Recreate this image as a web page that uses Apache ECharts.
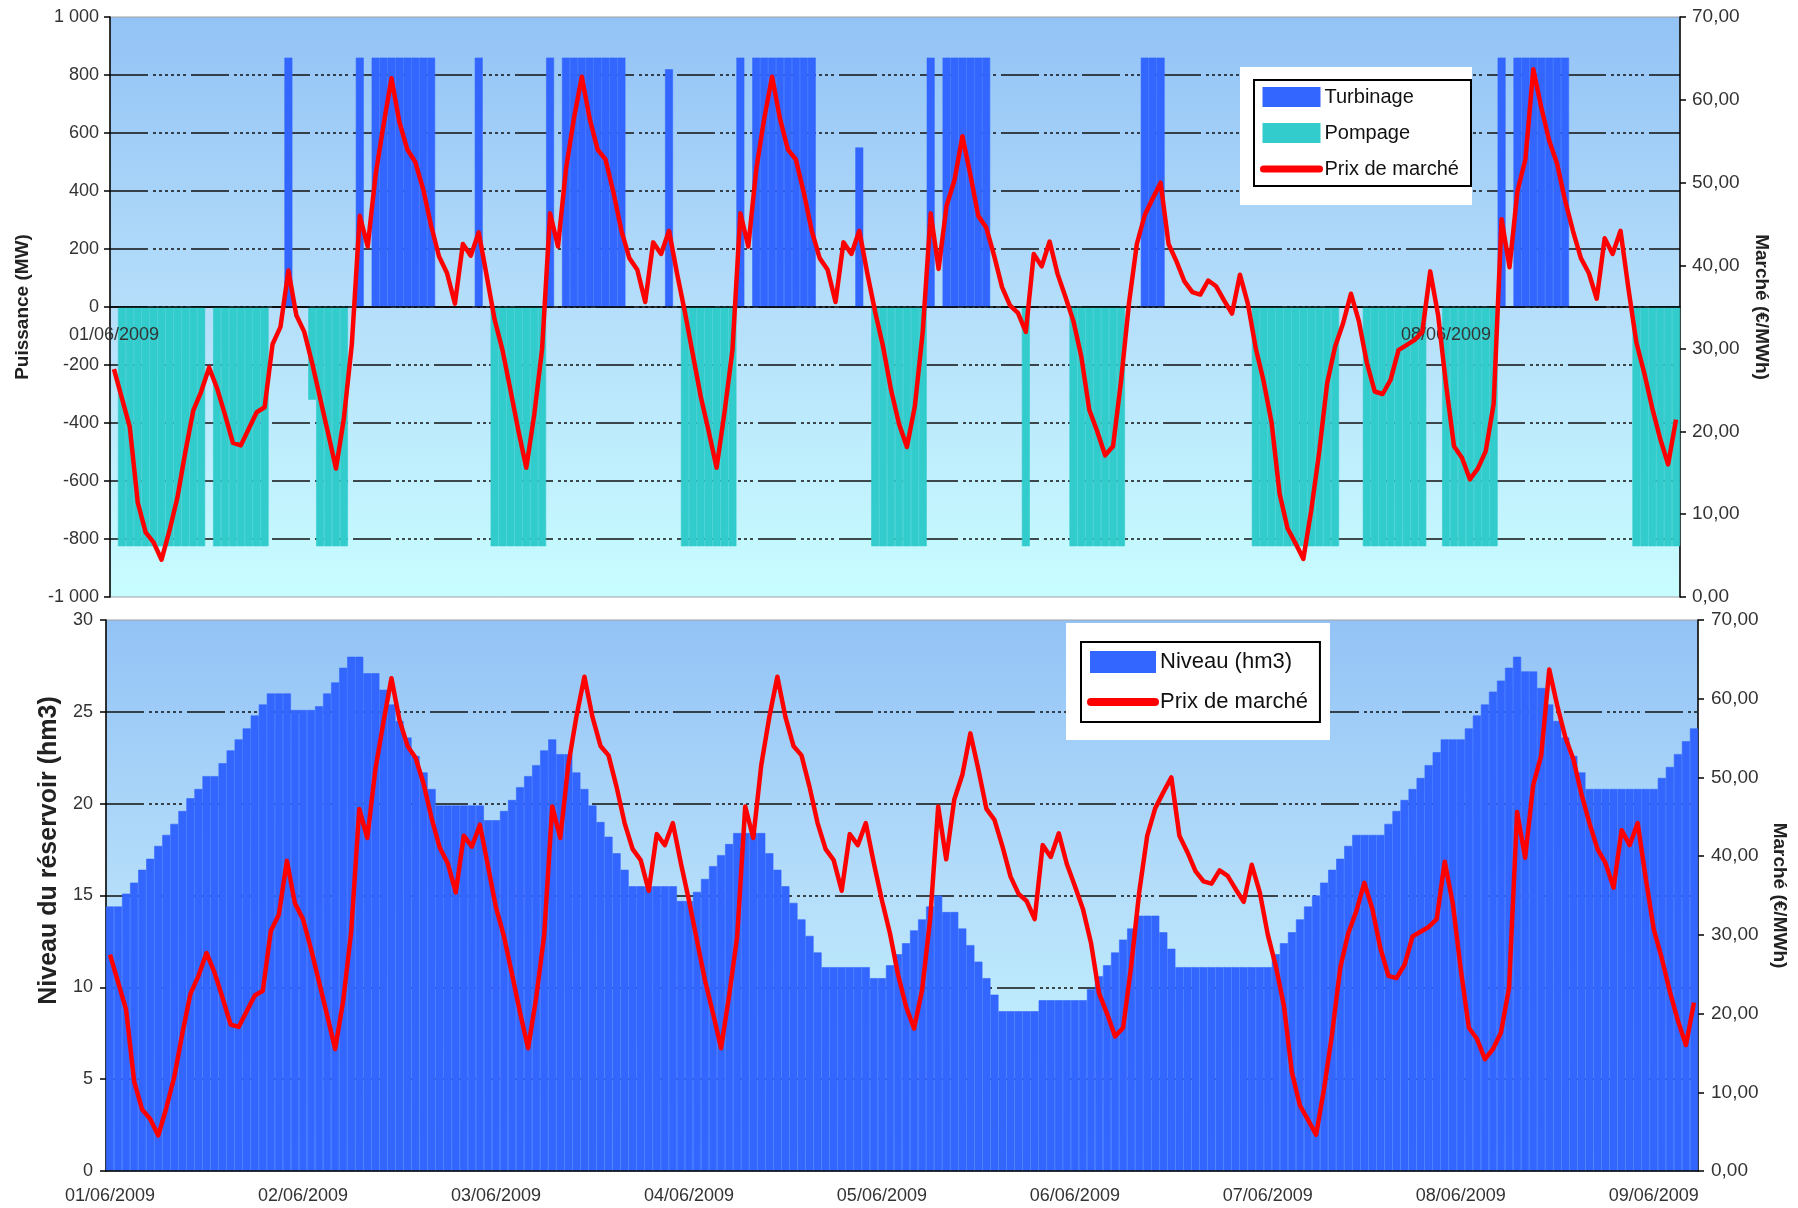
<!DOCTYPE html>
<html>
<head>
<meta charset="utf-8">
<title>Turbinage / pompage et prix de marché</title>
<style>
  html, body { margin: 0; padding: 0; background: #fff; }
  #chart-panel { width: 1798px; height: 1208px; }
</style>
</head>
<body>
<div id="chart-panel"></div>
<script src="https://cdn.jsdelivr.net/npm/echarts@6/dist/echarts.min.js"></script>
<script>
var jours = ['01/06/2009', '02/06/2009', '03/06/2009', '04/06/2009', '05/06/2009',
  '06/06/2009', '07/06/2009', '08/06/2009', '09/06/2009'];

// prix de marché horaire (€/MWh), une ligne par jour
var prix = [
  27.5, 24.0, 20.5, 11.4, 7.8, 6.6, 4.5, 8.0, 12.0, 17.5, 22.5, 24.8, 27.7, 25.2, 22.0, 18.6, 18.3, 20.3, 22.3, 22.9, 30.5, 32.6, 39.4, 34.0,
  32.0, 28.2, 24.0, 19.8, 15.5, 21.6, 30.5, 46.0, 42.3, 51.0, 57.0, 62.6, 57.3, 54.0, 52.5, 49.2, 44.8, 41.1, 39.1, 35.4, 42.6, 41.2, 44.0, 38.8,
  33.5, 29.8, 25.0, 20.1, 15.6, 22.0, 30.0, 46.3, 42.3, 51.6, 57.7, 62.8, 57.7, 54.0, 52.8, 48.8, 44.2, 40.9, 39.5, 35.6, 42.8, 41.4, 44.2, 39.1,
  34.4, 29.3, 24.2, 20.0, 15.6, 22.3, 29.8, 46.3, 42.3, 51.6, 57.7, 62.8, 57.7, 54.0, 52.8, 48.8, 44.2, 40.9, 39.5, 35.6, 42.8, 41.4, 44.2, 39.1,
  34.4, 30.2, 25.0, 20.9, 18.1, 23.0, 32.0, 46.3, 39.6, 47.2, 50.3, 55.6, 51.0, 46.0, 44.6, 41.2, 37.4, 35.2, 34.3, 32.0, 41.4, 39.9, 42.9, 39.0,
  36.2, 33.3, 29.0, 22.6, 20.0, 17.1, 18.2, 26.0, 35.4, 42.6, 46.1, 48.1, 50.0, 42.6, 40.5, 38.1, 36.8, 36.5, 38.2, 37.5, 35.8, 34.2, 38.9, 35.4,
  30.0, 26.0, 21.0, 12.5, 8.3, 6.5, 4.6, 10.5, 17.5, 25.8, 30.2, 33.0, 36.6, 33.3, 28.3, 24.8, 24.5, 26.2, 29.8, 30.4, 31.0, 32.0, 39.3, 34.0,
  25.6, 18.2, 16.8, 14.2, 15.5, 17.6, 23.3, 45.6, 39.8, 49.0, 52.8, 63.7, 59.1, 55.1, 52.3, 47.9, 44.2, 40.9, 39.1, 36.0, 43.3, 41.4, 44.2, 37.2,
  30.7, 27.0, 22.8, 19.1, 16.0, 21.4
];

// niveau du réservoir (hm3)
var niveau = [
  14.4, 14.4, 15.1, 15.7, 16.4, 17.0, 17.7, 18.3, 18.9, 19.6, 20.3, 20.8, 21.5, 21.5, 22.2, 22.9, 23.5, 24.1, 24.8, 25.4, 26.0, 26.0, 26.0, 25.1,
  25.1, 25.1, 25.3, 26.0, 26.6, 27.4, 28.0, 28.0, 27.1, 27.1, 26.2, 25.4, 24.5, 23.6, 22.6, 21.7, 20.8, 19.9, 19.9, 19.9, 19.9, 19.9, 19.9, 19.1,
  19.1, 19.6, 20.2, 20.9, 21.5, 22.1, 22.9, 23.5, 22.7, 22.7, 21.7, 20.8, 19.9, 19.0, 18.2, 17.3, 16.4, 15.5, 15.5, 15.5, 15.5, 15.5, 15.5, 14.7,
  14.7, 15.2, 15.9, 16.6, 17.2, 17.8, 18.4, 18.4, 18.4, 18.4, 17.3, 16.4, 15.5, 14.6, 13.7, 12.8, 11.9, 11.1, 11.1, 11.1, 11.1, 11.1, 11.1, 10.5,
  10.5, 11.2, 11.8, 12.4, 13.1, 13.7, 14.4, 15.0, 14.1, 14.1, 13.2, 12.3, 11.4, 10.5, 9.6, 8.7, 8.7, 8.7, 8.7, 8.7, 9.3, 9.3, 9.3, 9.3,
  9.3, 9.3, 9.9, 10.6, 11.2, 11.9, 12.6, 13.2, 13.9, 13.9, 13.9, 13.0, 12.1, 11.1, 11.1, 11.1, 11.1, 11.1, 11.1, 11.1, 11.1, 11.1, 11.1, 11.1,
  11.1, 11.8, 12.4, 13.0, 13.7, 14.4, 15.0, 15.7, 16.4, 17.0, 17.7, 18.3, 18.3, 18.3, 18.3, 18.9, 19.6, 20.2, 20.8, 21.4, 22.1, 22.8, 23.5, 23.5,
  23.5, 24.1, 24.8, 25.4, 26.1, 26.7, 27.4, 28.0, 27.2, 27.2, 26.3, 25.4, 24.5, 23.6, 22.6, 21.7, 20.8, 20.8, 20.8, 20.8, 20.8, 20.8, 20.8, 20.8,
  20.8, 21.4, 22.0, 22.7, 23.4, 24.1
];

// puissance turbinée (MW)
var turbinage = [
  0, 0, 0, 0, 0, 0, 0, 0, 0, 0, 0, 0, 0, 0, 0, 0, 0, 0, 0, 0, 0, 0, 860, 0,
  0, 0, 0, 0, 0, 0, 0, 860, 0, 860, 860, 860, 860, 860, 860, 860, 860, 0, 0, 0, 0, 0, 860, 0,
  0, 0, 0, 0, 0, 0, 0, 860, 0, 860, 860, 860, 860, 860, 860, 860, 860, 0, 0, 0, 0, 0, 820, 0,
  0, 0, 0, 0, 0, 0, 0, 860, 0, 860, 860, 860, 860, 860, 860, 860, 860, 0, 0, 0, 0, 0, 550, 0,
  0, 0, 0, 0, 0, 0, 0, 860, 0, 860, 860, 860, 860, 860, 860, 0, 0, 0, 0, 0, 0, 0, 0, 0,
  0, 0, 0, 0, 0, 0, 0, 0, 0, 0, 860, 860, 860, 0, 0, 0, 0, 0, 0, 0, 0, 0, 0, 0,
  0, 0, 0, 0, 0, 0, 0, 0, 0, 0, 0, 0, 0, 0, 0, 0, 0, 0, 0, 0, 0, 0, 0, 0,
  0, 0, 0, 0, 0, 0, 0, 860, 0, 860, 860, 860, 860, 860, 860, 860, 0, 0, 0, 0, 0, 0, 0, 0,
  0, 0, 0, 0, 0, 0
];

// puissance de pompage (MW)
var pompage = [
  0, -825, -825, -825, -825, -825, -825, -825, -825, -825, -825, -825, 0, -825, -825, -825, -825, -825, -825, -825, 0, 0, 0, 0,
  0, -320, -825, -825, -825, -825, 0, 0, 0, 0, 0, 0, 0, 0, 0, 0, 0, 0, 0, 0, 0, 0, 0, 0,
  -825, -825, -825, -825, -825, -825, -825, 0, 0, 0, 0, 0, 0, 0, 0, 0, 0, 0, 0, 0, 0, 0, 0, 0,
  -825, -825, -825, -825, -825, -825, -825, 0, 0, 0, 0, 0, 0, 0, 0, 0, 0, 0, 0, 0, 0, 0, 0, 0,
  -825, -825, -825, -825, -825, -825, -825, 0, 0, 0, 0, 0, 0, 0, 0, 0, 0, 0, 0, -825, 0, 0, 0, 0,
  0, -825, -825, -825, -825, -825, -825, -825, 0, 0, 0, 0, 0, 0, 0, 0, 0, 0, 0, 0, 0, 0, 0, 0,
  -825, -825, -825, -825, -825, -825, -825, -825, -825, -825, -825, 0, 0, 0, -825, -825, -825, -825, -825, -825, -825, -825, 0, 0,
  -825, -825, -825, -825, -825, -825, -825, 0, 0, 0, 0, 0, 0, 0, 0, 0, 0, 0, 0, 0, 0, 0, 0, 0,
  -825, -825, -825, -825, -825, -825
];

// une catégorie par heure
var heures = [];
for (var i = 0; i < prix.length; i++) {
  var h = i % 24;
  heures.push(jours[Math.floor(i / 24)] + ' ' + (h < 10 ? '0' : '') + h + 'h');
}

var police = 'Liberation Sans, Arial, sans-serif';
var fond = {
  type: 'linear', x: 0, y: 0, x2: 0, y2: 1,
  colorStops: [
    { offset: 0, color: '#93c3f6' },
    { offset: 0.5, color: '#b5defa' },
    { offset: 1, color: '#c8fdff' }
  ]
};
var grille = {
  show: true,
  showMinLine: false,
  showMaxLine: false,
  lineStyle: { color: '#111', width: 1.5, type: [38, 5, 3, 3, 3, 3, 3, 3, 3, 3, 3, 3, 3, 5] }
};
var trait = { color: '#000', width: 1.5 };
var etiquette = { fontSize: 18, color: '#333', fontFamily: police };
var etiquetteDroite = { fontSize: 19, color: '#333', fontFamily: police };
var titreAxe = { fontSize: 19, fontWeight: 'bold', color: '#222', fontFamily: police };

function parJour(i) { return i % 24 === 0; }
function jour(v) { return v.slice(0, 10); }
function fmtMW(v) {
  if (Math.abs(v) >= 1000) return (v < 0 ? '-' : '') + '1 000';
  return String(v);
}
function fmtPrix(v) { return v.toFixed(2).replace('.', ','); }

var dom = document.getElementById('chart-panel');
var myChart = echarts.init(dom);

var option = {
  animation: false,
  backgroundColor: '#fff',
  textStyle: { fontFamily: police },
  grid: [
    { left: 110, right: 118, top: 17, height: 580, show: true, backgroundColor: fond, borderColor: '#a0a0a0', borderWidth: 1 },
    { left: 106, right: 100, top: 620, height: 551, show: true, backgroundColor: fond, borderColor: '#a0a0a0', borderWidth: 1 }
  ],
  graphic: [
    { type: 'rect', left: 1240, top: 67, shape: { width: 232, height: 138 }, style: { fill: '#fff' }, z: 3 },
    { type: 'rect', left: 1066, top: 623, shape: { width: 264, height: 117 }, style: { fill: '#fff' }, z: 3 }
  ],
  legend: [
    {
      orient: 'vertical', left: 1254, top: 80,
      data: [
        { name: 'Turbinage', icon: 'rect' },
        { name: 'Pompage', icon: 'rect' },
        { name: 'Prix de marché', itemStyle: { opacity: 0 } }
      ],
      itemWidth: 56, itemHeight: 18, itemGap: 16,
      padding: [7, 12, 7, 6],
      backgroundColor: '#fff', borderColor: '#000', borderWidth: 2, borderRadius: 0,
      textStyle: { fontSize: 20, color: '#111', fontFamily: police },
      lineStyle: { width: 7, cap: 'round' },
      selectedMode: false, z: 5
    },
    {
      orient: 'vertical', left: 1081, top: 642,
      data: [
        { name: 'Niveau (hm3)', icon: 'rect' },
        { name: 'Prix de marché', itemStyle: { opacity: 0 } }
      ],
      itemWidth: 64, itemHeight: 20, itemGap: 18,
      padding: [9, 12, 9, 6],
      backgroundColor: '#fff', borderColor: '#000', borderWidth: 2, borderRadius: 0,
      textStyle: { fontSize: 22, color: '#111', fontFamily: police },
      lineStyle: { width: 8, cap: 'round' },
      selectedMode: false, z: 5
    }
  ],
  xAxis: [
    {
      // axe du haut placé sur la ligne 0 MW (milieu de la grille)
      type: 'category', gridIndex: 0, data: heures, boundaryGap: true, z: 5,
      position: 'bottom', offset: -290,
      axisLine: { onZero: false, lineStyle: trait },
      axisTick: { interval: parJour, length: 7, lineStyle: trait },
      axisLabel: Object.assign({ interval: function (i) { return i === 0 || i === 168; }, formatter: jour, margin: 19 }, etiquette),
      splitLine: { show: false }
    },
    {
      type: 'category', gridIndex: 1, data: heures, boundaryGap: true, z: 5,
      axisLine: { onZero: false, lineStyle: trait },
      axisTick: { interval: parJour, length: 7, lineStyle: trait },
      axisLabel: Object.assign({ interval: parJour, formatter: jour, margin: 16 }, etiquette),
      splitLine: { show: false }
    }
  ],
  yAxis: [
    {
      type: 'value', gridIndex: 0, position: 'left', min: -1000, max: 1000, interval: 200,
      name: 'Puissance (MW)', nameLocation: 'middle', nameRotate: 90, nameGap: 78, nameTextStyle: titreAxe,
      axisLine: { show: true, lineStyle: trait },
      axisTick: { show: true, length: 6, lineStyle: trait },
      axisLabel: Object.assign({ formatter: fmtMW, margin: 11 }, etiquette),
      splitLine: grille
    },
    {
      type: 'value', gridIndex: 0, position: 'right', min: 0, max: 70, interval: 10,
      name: 'Marché (€/MWh)', nameLocation: 'middle', nameRotate: -90, nameGap: 72, nameTextStyle: titreAxe,
      axisLine: { show: true, lineStyle: trait },
      axisTick: { show: true, length: 6, lineStyle: trait },
      axisLabel: Object.assign({ formatter: fmtPrix, margin: 12 }, etiquetteDroite),
      splitLine: { show: false }
    },
    {
      type: 'value', gridIndex: 1, position: 'left', min: 0, max: 30, interval: 5,
      name: 'Niveau du réservoir (hm3)', nameLocation: 'middle', nameRotate: 90, nameGap: 44,
      nameTextStyle: Object.assign({}, titreAxe, { fontSize: 25, padding: [0, 0, 0, 90] }),
      axisLine: { show: true, lineStyle: trait },
      axisTick: { show: true, length: 6, lineStyle: trait },
      axisLabel: Object.assign({ margin: 13 }, etiquette),
      splitLine: grille
    },
    {
      type: 'value', gridIndex: 1, position: 'right', min: 0, max: 70, interval: 10,
      name: 'Marché (€/MWh)', nameLocation: 'middle', nameRotate: -90, nameGap: 70, nameTextStyle: titreAxe,
      axisLine: { show: true, lineStyle: trait },
      axisTick: { show: true, length: 6, lineStyle: trait },
      axisLabel: Object.assign({ formatter: fmtPrix, margin: 13 }, etiquetteDroite),
      splitLine: { show: false }
    }
  ],
  series: [
    {
      name: 'Turbinage', type: 'bar', xAxisIndex: 0, yAxisIndex: 0,
      data: turbinage.map(function (v) { return v || null; }),
      barCategoryGap: '0%', barGap: '-100%',
      itemStyle: { color: '#3366ff', borderColor: '#3366ff', borderWidth: 0.6 },
      silent: true
    },
    {
      name: 'Pompage', type: 'bar', xAxisIndex: 0, yAxisIndex: 0,
      data: pompage.map(function (v) { return v || null; }),
      barCategoryGap: '0%', barGap: '-100%',
      itemStyle: { color: '#33cccc', borderColor: '#33cccc', borderWidth: 0.6 },
      silent: true
    },
    {
      name: 'Prix de marché', type: 'line', xAxisIndex: 0, yAxisIndex: 1,
      data: prix, symbol: 'none', z: 10,
      lineStyle: { color: '#ff0000', width: 4.5, join: 'round' },
      itemStyle: { color: '#ff0000' }
    },
    {
      name: 'Niveau (hm3)', type: 'bar', xAxisIndex: 1, yAxisIndex: 2,
      data: niveau, barCategoryGap: '0%',
      itemStyle: { color: '#3366ff', borderColor: '#3366ff', borderWidth: 0.6 },
      silent: true
    },
    {
      name: 'Prix de marché', type: 'line', xAxisIndex: 1, yAxisIndex: 3,
      data: prix, symbol: 'none', z: 10,
      lineStyle: { color: '#ff0000', width: 4.5, join: 'round' },
      itemStyle: { color: '#ff0000' }
    }
  ]
};

if (option && typeof option === 'object') {
  myChart.setOption(option);
}
</script>
</body>
</html>
